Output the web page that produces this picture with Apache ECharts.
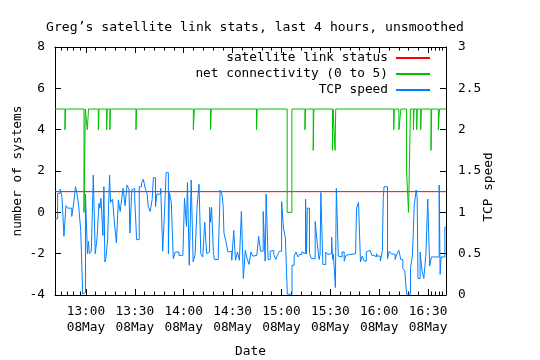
<!DOCTYPE html>
<html>
<head>
<meta charset="utf-8">
<script src="https://cdn.jsdelivr.net/npm/echarts@6/dist/echarts.min.js"></script>
<style>html,body{margin:0;padding:0;background:#fff}#c{width:540px;height:360px}</style>
</head>
<body>
<div id="c"></div>
<script>
// Time axis: minutes after 12:41 on 08 May
const startHour = 12, startMinute = 41, spanMinutes = 240;
const dayLabel = '08May';
const titleText = "Greg\u2019s satellite link stats, last 4 hours, unsmoothed";
const seriesNames = ['satellite link status', 'net connectivity (0 to 5)', 'TCP speed'];
const leftTicks = [-4, 8, 2];   // min, max, step
const rightTicks = [0, 3, 0.5];

// satellite link status (left axis)
const linkMin = [0, 240];
const linkValue = [1, 1];

// net connectivity (left axis), step changes
const netMin = [0, 6.1, 6.5, 17.8, 18.6, 19.8, 20.6, 26.6, 27.0, 31.7, 32.1, 33.7, 34.1, 49.7, 50.1,
  84.9, 85.6, 95.5, 95.9, 123.7, 124.1, 142.5, 145.4, 153.4, 153.8, 158.5, 158.9, 170.3, 170.7,
  171.9, 172.3, 207.9, 208.3, 211.1, 212.3, 215.8, 217.0, 218.2, 220.0, 220.4, 222.0, 222.4,
  224.5, 224.9, 230.8, 231.2, 235.3, 236.0, 240];
const netValue = [5, 4, 5, 0, 5, 4, 5, 4, 5, 4, 5, 4, 5, 4, 5,
  4, 5, 4, 5, 4, 5, 0, 5, 4, 5, 3, 5, 3, 5,
  3, 5, 4, 5, 4, 5, 2, 0, 5, 4, 5, 4, 5,
  4, 5, 3, 5, 4, 5, 5];

// TCP speed (right axis): [minutes after start, speed]
const tcpSpeed = [
[0,0.92],[1.6,1.23],[3.2,1.28],[4.3,1.18],[5.5,0.71],[6.7,1.08],[7.9,1.05],[10.3,0.95],[11.4,1.10],[12.6,1.31],
[13.4,1.24],[14.6,1.06],[15.8,0.78],[17.0,0.01],[18.1,0.03],[18.7,1.22],[19.9,0.50],[20.5,0.65],[21.1,0.50],[22.3,0.53],
[23.5,1.45],[24.7,0.50],[25.8,0.69],[27.0,1.11],[27.6,1.05],[28.2,1.17],[29.4,0.72],[30.0,1.31],[30.6,0.40],[31.2,0.44],
[32.3,0.67],[33.5,1.45],[34.1,1.12],[35.3,1.16],[36.5,0.87],[37.7,0.63],[38.9,1.15],[40.0,1.01],[40.6,1.11],[41.8,1.29],
[43.0,1.08],[44.2,1.33],[45.4,1.28],[46.0,0.75],[47.1,1.27],[47.7,1.29],[48.9,1.18],[50.1,0.67],[51.7,1.31],[53.1,1.35],
[54.2,1.40],[55.4,1.29],[56.6,1.22],[57.2,1.07],[58.4,1.01],[59.6,1.15],[60.4,1.42],[61.7,1.07],[62.5,1.22],[64.9,1.29],
[66.1,0.53],[67.3,1.04],[68.2,1.48],[69.6,0.50],[70.2,1.24],[71.4,1.12],[72.6,0.44],[73.8,0.52],[76.1,0.48],[78.5,0.46],
[79.5,1.17],[80.7,0.83],[81.3,1.36],[82.4,0.36],[83.6,1.39],[84.8,0.40],[86.0,0.49],[87.2,1.07],[88.4,1.34],[89.5,0.50],
[90.7,0.46],[91.9,0.88],[93.1,0.50],[94.3,0.52],[94.9,1.06],[95.5,0.88],[96.1,1.06],[97.2,0.53],[97.8,0.43],[100.2,0.48],
[101.4,1.27],[102.6,1.21],[103.2,1.08],[103.7,0.75],[104.9,0.65],[106.1,0.52],[107.3,0.53],[108.5,0.42],[109.7,0.78],[110.8,0.42],
[112.0,0.52],[113.2,0.42],[114.4,1.01],[115.6,0.20],[116.8,0.54],[117.9,0.44],[119.1,0.37],[120.3,0.52],[121.5,0.47],[122.7,0.48],
[123.9,0.50],[125.0,0.71],[126.2,0.53],[127.8,1.01],[129.0,0.41],[129.6,1.22],[130.8,0.43],
[132.1,0.53],[133.1,0.54],[134.3,0.49],[135.5,0.43],[136.7,0.49],[137.8,0.53],[139.1,1.13],[140.2,0.81],[141.4,0.70],[142.6,0.01],
[145.5,0.36],[146.8,0.47],[147.9,0.52],[149.1,0.46],[150.2,0.49],[151.5,0.52],[152.6,0.50],[153.8,1.16],[154.4,0.50],[154.9,1.05],
[156.2,0.50],[157.4,0.44],[159.7,0.89],[160.9,0.64],[162.1,0.43],[162.7,0.49],[163.2,1.24],[164.4,0.37],
[166.2,0.52],[167.4,0.49],[168.6,0.50],[169.8,0.70],[170.4,0.43],[170.9,0.49],[172.1,0.09],[172.7,1.29],[173.9,0.47],[175.1,0.46],
[176.2,0.52],[177.5,0.41],[178.6,0.48],[179.8,0.49],[180.9,0.50],[184.5,0.48],[185.1,1.05],[186.3,1.12],[187.5,0.40],[188.6,0.47],
[189.8,0.41],[191.1,0.52],[192.2,0.54],[193.4,0.52],[194.5,0.48],[195.8,0.46],
[197.3,0.50],[197.9,0.47],[199.7,0.41],[200.9,0.53],[201.5,1.18],[202.0,1.31],[204.1,0.44],[205.2,0.53],[206.4,0.50],[207.5,0.49],
[208.8,0.43],[209.9,0.50],[211.1,0.54],[212.2,0.43],[213.5,0.32],[214.7,0.29],[215.8,0.01],[218.2,0.32],[219.4,0.48],[220.5,1.08],
[221.7,1.27],[222.3,1.18],[222.8,0.20],[224.1,0.52],[225.2,0.31],[226.4,0.20],[227.6,0.47],[228.8,1.16],[229.4,0.72],[230.0,0.35],
[231.1,0.46],[235.8,1.33],[236.4,0.25],[237.0,0.46],[239.3,0.82],[240,0.82]
];

const base = new Date(2008, 4, 8, startHour, startMinute, 0).getTime();
const T = m => base + m * 60000;
const pad = n => (n < 10 ? '0' : '') + n;
const FONT = 'DejaVu Sans Mono';
const FS = 12.8;

const linkData = linkMin.map((m, i) => [T(m), linkValue[i]]);
const netData = netMin.map((m, i) => [T(m), netValue[i]]);
const tcpData = tcpSpeed.map(p => [T(p[0]), p[1]]);

const xCommon = {
  type: 'time', min: T(0), max: T(spanMinutes), splitNumber: 7,
  splitLine: {show: false},
  axisLine: {show: true, onZero: false, lineStyle: {color: '#000', width: 1}},
  axisTick: {show: true, inside: true, length: 6, lineStyle: {color: '#000'}},
  minorTick: {show: true, splitNumber: 5, length: 3.5, lineStyle: {color: '#000'}}
};

const chart = echarts.init(document.getElementById('c'), null, {renderer: 'canvas'});
chart.setOption({
  animation: false,
  backgroundColor: '#fff',
  textStyle: {fontFamily: FONT, color: '#000'},
  title: {
    text: titleText, left: 250, top: 16, textAlign: 'center',
    textStyle: {fontFamily: FONT, fontSize: 13.1, fontWeight: 'normal', color: '#000', lineHeight: 14}
  },
  legend: {
    orient: 'vertical', right: 110, top: 50, align: 'right', padding: 0,
    itemWidth: 34, itemHeight: 2, itemGap: 0, icon: 'rect',
    textStyle: {fontFamily: FONT, fontSize: FS, lineHeight: 16, color: '#000', padding: [0, 3, 0, 0]},
    data: seriesNames
  },
  grid: {left: 55, right: 94, top: 47, bottom: 65, containLabel: false, outerBoundsMode: 'none'},
  xAxis: [
    Object.assign({}, xCommon, {
      position: 'bottom',
      name: 'Date', nameLocation: 'middle', nameGap: 50, nameMoveOverlap: false,
      nameTextStyle: {fontFamily: FONT, fontSize: FS, color: '#000'},
      axisLabel: {
        show: true, color: '#000', fontFamily: FONT, fontSize: FS, lineHeight: 16, margin: 9,
        showMinLabel: false, showMaxLabel: false,
        formatter: v => { const d = new Date(v); return pad(d.getHours()) + ':' + pad(d.getMinutes()) + '\n' + dayLabel; }
      }
    }),
    Object.assign({}, xCommon, {position: 'top', axisLabel: {show: false}})
  ],
  yAxis: [
    {
      type: 'value', min: leftTicks[0], max: leftTicks[1], interval: leftTicks[2], position: 'left',
      name: 'number of systems', nameLocation: 'middle', nameGap: 31, nameRotate: 90, nameMoveOverlap: false,
      nameTextStyle: {fontFamily: FONT, fontSize: FS, color: '#000'},
      splitLine: {show: false},
      axisLine: {show: true, onZero: false, lineStyle: {color: '#000', width: 1}},
      axisTick: {show: true, inside: true, length: 6, lineStyle: {color: '#000'}},
      axisLabel: {color: '#000', fontFamily: FONT, fontSize: FS, margin: 10}
    },
    {
      type: 'value', min: rightTicks[0], max: rightTicks[1], interval: rightTicks[2], position: 'right',
      name: 'TCP speed', nameLocation: 'middle', nameGap: 36, nameRotate: 90, nameMoveOverlap: false,
      nameTextStyle: {fontFamily: FONT, fontSize: FS, color: '#000', padding: [0, 32, 0, 0]},
      splitLine: {show: false},
      axisLine: {show: true, onZero: false, lineStyle: {color: '#000', width: 1}},
      axisTick: {show: true, inside: true, length: 6, lineStyle: {color: '#000'}},
      axisLabel: {color: '#000', fontFamily: FONT, fontSize: FS, margin: 12, formatter: v => String(v)}
    }
  ],
  series: [
    {name: seriesNames[0], type: 'line', step: 'end', yAxisIndex: 0, data: linkData, showSymbol: false, symbol: 'none',
     lineStyle: {color: '#ff0000', width: 1}, itemStyle: {color: '#ff0000'}, silent: true},
    {name: seriesNames[1], type: 'line', step: 'end', yAxisIndex: 0, data: netData, showSymbol: false, symbol: 'none',
     lineStyle: {color: '#00c000', width: 1}, itemStyle: {color: '#00c000'}, silent: true},
    {name: seriesNames[2], type: 'line', step: 'end', yAxisIndex: 1, data: tcpData, showSymbol: false, symbol: 'none',
     lineStyle: {color: '#0080ff', width: 1}, itemStyle: {color: '#0080ff'}, silent: true}
  ]
});
</script>
</body>
</html>
